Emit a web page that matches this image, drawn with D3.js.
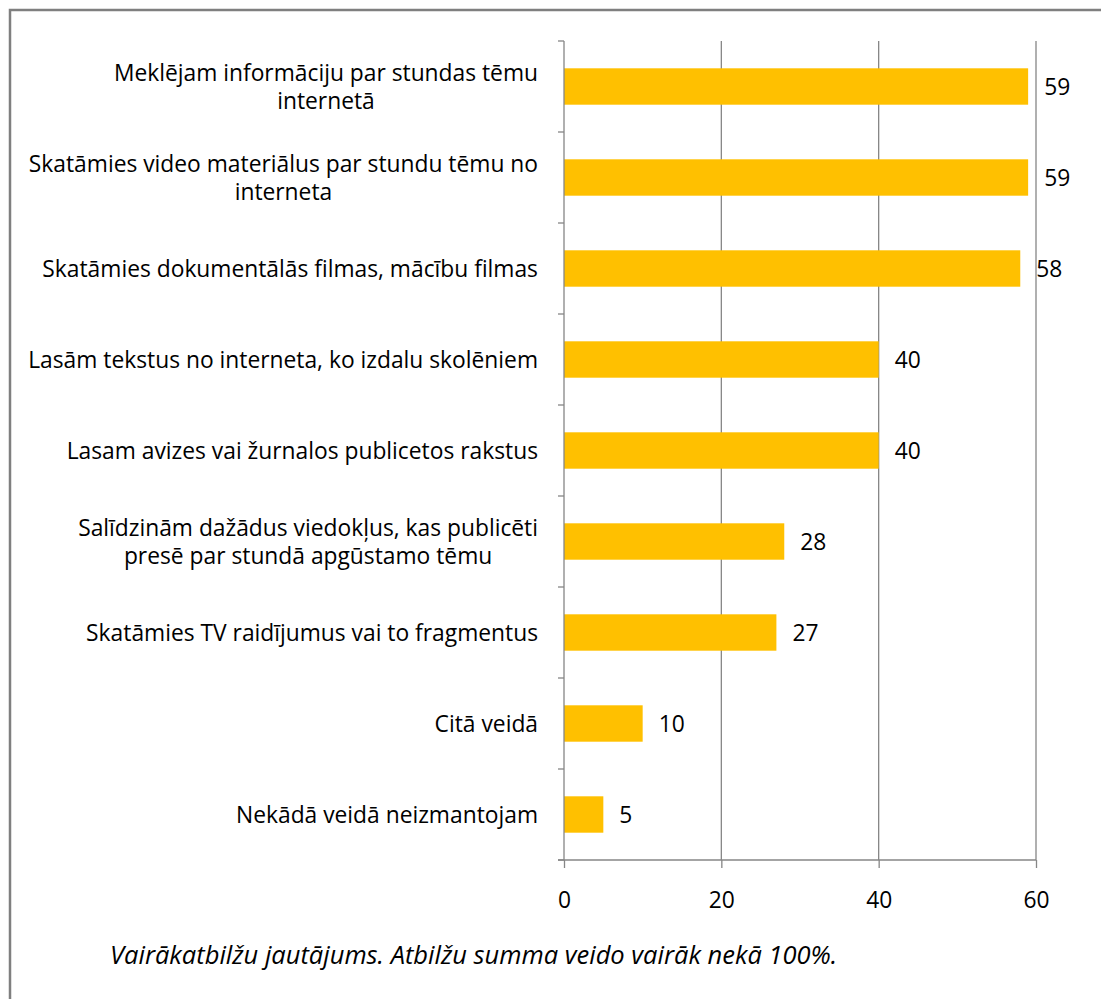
<!DOCTYPE html>
<html>
<head>
<meta charset="utf-8">
<script src="https://cdn.jsdelivr.net/npm/d3@7"></script>
<style>
  body { margin: 0; background: #fff; }
  svg text { font-family: "Open Sans", "Noto Sans", sans-serif; fill: #000; }
</style>
</head>
<body>
<div id="chart"></div>
<script>
const categories = [
    "Meklējam informāciju par stundas tēmu\ninternetā",
    "Skatāmies video materiālus par stundu tēmu no\ninterneta",
    "Skatāmies dokumentālās filmas, mācību filmas",
    "Lasām tekstus no interneta, ko izdalu skolēniem",
    "Lasam avizes vai žurnalos publicetos rakstus",
    "Salīdzinām dažādus viedokļus, kas publicēti\npresē par stundā apgūstamo tēmu",
    "Skatāmies TV raidījumus vai to fragmentus",
    "Citā veidā",
    "Nekādā veidā neizmantojam"
];
const values = [59, 59, 58, 40, 40, 28, 27, 10, 5];
const xTicks = [0, 20, 40, 60];
const footnote = "Vairākatbilžu jautājums. Atbilžu summa veido vairāk nekā 100%.";

function drawChart(containerId = "#chart") {
    const W = 1101, H = 999;
    const plot = { left: 564, right: 1036, top: 41, bottom: 860 };
    const axisColor = "#868686";
    const fs = "22.8px";

    const svg = d3.select(containerId)
        .append("svg")
        .attr("width", W)
        .attr("height", H);

    // outer frame
    svg.append("rect")
        .attr("x", 10).attr("y", 10)
        .attr("width", W).attr("height", H)
        .attr("fill", "none")
        .attr("stroke", "#7f7f7f")
        .attr("stroke-width", 2.5);

    const x = d3.scaleLinear()
        .domain([0, 60])
        .range([plot.left, plot.right]);

    const y = d3.scaleBand()
        .domain(categories)
        .range([plot.top, plot.bottom])
        .paddingInner(0.6)
        .paddingOuter(0.3);

    // gridlines
    svg.append("g")
        .selectAll("line")
        .data(xTicks.filter(d => d > 0))
        .enter().append("line")
        .attr("x1", d => x(d)).attr("x2", d => x(d))
        .attr("y1", plot.top).attr("y2", plot.bottom)
        .attr("stroke", axisColor)
        .attr("stroke-width", 1.3);

    // bars
    svg.append("g")
        .selectAll("rect")
        .data(values)
        .enter().append("rect")
        .attr("x", x(0))
        .attr("y", (d, i) => y(categories[i]))
        .attr("width", d => x(d) - x(0))
        .attr("height", y.bandwidth())
        .attr("fill", "#ffc000");

    // value labels
    svg.append("g")
        .selectAll("text")
        .data(values)
        .enter().append("text")
        .attr("x", d => x(d) + 16)
        .attr("y", (d, i) => y(categories[i]) + y.bandwidth() / 2)
        .attr("dy", "0.36em")
        .style("font-size", fs)
        .text(d => d);

    // x axis
    const xAxis = svg.append("g")
        .attr("transform", `translate(0,${plot.bottom})`)
        .call(d3.axisBottom(x).tickValues(xTicks).tickSizeInner(8).tickSizeOuter(0).tickPadding(24));
    xAxis.select(".domain").remove();
    xAxis.append("line")
        .attr("x1", plot.left - 6).attr("x2", plot.right)
        .attr("stroke", axisColor).attr("stroke-width", 1.3);
    xAxis.selectAll(".tick line").attr("stroke", axisColor).attr("stroke-width", 1.3);
    xAxis.selectAll(".tick text")
        .style("font-size", fs)
        .style("font-family", "'Open Sans', sans-serif")
        .attr("fill", "#000");

    // y axis: line plus ticks at band boundaries
    const yAxis = svg.append("g");
    yAxis.append("line")
        .attr("x1", plot.left).attr("x2", plot.left)
        .attr("y1", plot.top).attr("y2", plot.bottom)
        .attr("stroke", axisColor).attr("stroke-width", 1.3);
    const bounds = d3.range(categories.length + 1).map(i => plot.top + i * (plot.bottom - plot.top) / categories.length);
    yAxis.selectAll("line.tk")
        .data(bounds)
        .enter().append("line")
        .attr("class", "tk")
        .attr("x1", plot.left - 6).attr("x2", plot.left)
        .attr("y1", d => d).attr("y2", d => d)
        .attr("stroke", axisColor).attr("stroke-width", 1.3);

    // category labels: block right-aligned, lines centred within block
    const labelRight = plot.left - 26;
    const lineH = 28;
    const lab = svg.append("g")
        .selectAll("g")
        .data(categories)
        .enter().append("g");
    lab.each(function (d) {
        const g = d3.select(this);
        const lines = d.split("\n");
        const cy = y(d) + y.bandwidth() / 2;
        const t = g.append("text")
            .style("font-size", fs)
            .attr("text-anchor", "middle");
        lines.forEach((ln, i) => {
            t.append("tspan")
                .attr("x", 0)
                .attr("y", cy + (i - (lines.length - 1) / 2) * lineH)
                .attr("dy", "0.36em")
                .text(ln);
        });
        const w = t.node().getBBox().width;
        t.attr("transform", `translate(${labelRight - w / 2},0)`);
    });

    // footnote
    svg.append("text")
        .attr("x", 110)
        .attr("y", 955)
        .attr("dy", "0.36em")
        .style("font-size", "25.5px")
        .style("font-style", "italic")
        .text(footnote);
}

drawChart();
</script>
</body>
</html>
